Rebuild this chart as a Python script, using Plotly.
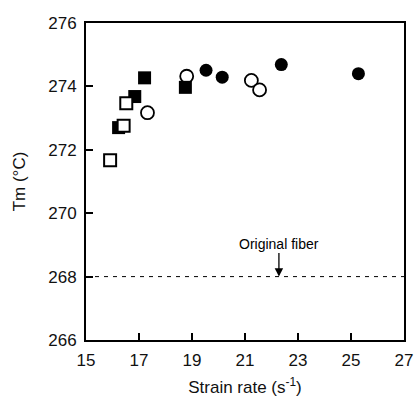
import plotly.graph_objects as go

# Data
open_sq_x = [15.91, 16.42, 16.52]
open_sq_y = [271.67, 272.76, 273.47]
fill_sq_x = [16.23, 16.84, 17.21, 18.75]
fill_sq_y = [272.70, 273.68, 274.27, 273.97]
open_ci_x = [17.32, 18.80, 21.24, 21.55]
open_ci_y = [273.17, 274.32, 274.19, 273.89]
fill_ci_x = [19.53, 20.14, 22.37, 25.28]
fill_ci_y = [274.51, 274.29, 274.69, 274.40]

original_fiber = 268.0
arrow_x = 22.28

x_ticks = [15, 17, 19, 21, 23, 25, 27]
y_ticks = [266, 268, 270, 272, 274, 276]

FONT = "Liberation Sans, Arial, Helvetica, sans-serif"

fig = go.Figure()

# dashed reference line
fig.add_trace(go.Scatter(x=[15, 27], y=[original_fiber, original_fiber], mode="lines",
                         line=dict(color="black", width=1, dash="4px,5px"),
                         hoverinfo="skip", showlegend=False))

fig.add_trace(go.Scatter(x=open_ci_x, y=open_ci_y, mode="markers",
                         marker=dict(symbol="circle", size=13, color="white",
                                     line=dict(color="black", width=1.8)),
                         showlegend=False))
fig.add_trace(go.Scatter(x=fill_sq_x, y=fill_sq_y, mode="markers",
                         marker=dict(symbol="square", size=13, color="black",
                                     line=dict(color="black", width=0)),
                         showlegend=False))
fig.add_trace(go.Scatter(x=open_sq_x, y=open_sq_y, mode="markers",
                         marker=dict(symbol="square", size=12, color="white",
                                     line=dict(color="black", width=2)),
                         showlegend=False))
fig.add_trace(go.Scatter(x=fill_ci_x, y=fill_ci_y, mode="markers",
                         marker=dict(symbol="circle", size=13, color="black",
                                     line=dict(color="black", width=0)),
                         showlegend=False))

fig.add_annotation(x=arrow_x, y=original_fiber, ax=0, ay=-33, xref="x", yref="y",
                   showarrow=True, arrowhead=2, arrowsize=1.3, arrowwidth=1.3,
                   arrowcolor="black", text="Original fiber", standoff=0,
                   font=dict(family=FONT, size=14, color="black"))

axis_common = dict(showline=True, linecolor="black", linewidth=2, mirror=True,
                   ticks="inside", ticklen=7, tickwidth=1.5, tickcolor="black",
                   showgrid=False, zeroline=False, automargin=False,
                   tickfont=dict(family=FONT, size=17, color="#111"))

fig.update_xaxes(range=[15, 27], tickvals=x_ticks, ticklabelstandoff=4, **axis_common,
                 title=dict(text="Strain rate (s<sup>-1</sup>)",
                            font=dict(family=FONT, size=17, color="#111"), standoff=12))
fig.update_yaxes(range=[266, 276], tickvals=y_ticks, ticklabelstandoff=4, **axis_common,
                 title=dict(text="Tm (°C)",
                            font=dict(family=FONT, size=17, color="#111"), standoff=18))

fig.update_layout(width=417, height=397, margin=dict(l=86, r=13, t=23, b=57),
                  paper_bgcolor="white", plot_bgcolor="white")

fig.write_html("out.html")
